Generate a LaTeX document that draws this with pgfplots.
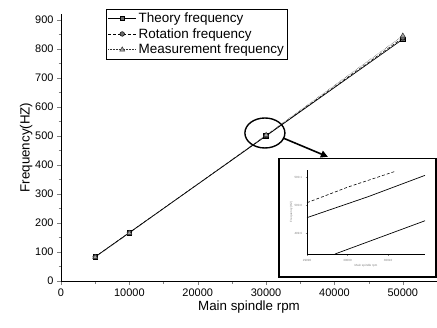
\documentclass[border=0pt]{standalone}
\usepackage{pgfplots}
\pgfplotsset{compat=1.18}
\usepackage{fontspec}
\setmainfont{Liberation Sans}
\usetikzlibrary{arrows.meta}
\begin{document}
\begin{tikzpicture}[x=1bp,y=1bp]
\path[use as bounding box] (0,0) rectangle (437,327);
\begin{axis}[
  at={(61bp,46bp)}, anchor=south west,
  scale only axis, width=376bp, height=267bp,
  axis lines*=left,
  xmin=0, xmax=55000, ymin=0, ymax=920,
  xtick={0,10000,...,50000}, ytick={0,100,...,900},
  minor x tick num=1, minor y tick num=1,
  tick align=outside, major tick length=4bp, minor tick length=2.5bp,
  scaled x ticks=false,
  /pgf/number format/assume math mode=true,
  xticklabel style={/pgf/number format/1000 sep={}},
  ticklabel style={font=\fontsize{11}{12}\selectfont},
  xlabel={Main spindle rpm}, ylabel={Frequency(HZ)},
  label style={font=\fontsize{13.4}{15}\selectfont},
  xlabel style={yshift=2bp},
  ylabel style={yshift=-4bp},
  clip=false,
  legend cell align=left,
  legend style={at={(rel axis cs:0.1197,1.019)}, anchor=north west,
    font=\fontsize{13.5}{15}\selectfont, draw=black, inner sep=1.5bp,
    row sep=0.5bp},
  legend image code/.code={\draw[mark repeat=2,mark phase=2,#1] plot coordinates {(0cm,0cm) (0.5cm,0cm) (1cm,0cm)};},
]
\addplot[black, line width=0.7pt, mark=square*, mark size=2.3bp, mark options={solid, fill=gray!85!black}] coordinates {(5000,83.3) (10000,166.7) (30000,500) (50000,833.3)};
\addlegendentry{Theory frequency}
\addplot[black, densely dashed, line width=0.5pt, mark=*, mark size=2.3bp, mark options={solid, fill=gray!85!black}] coordinates {(5000,83.5) (10000,167) (30000,501) (50000,838)};
\addlegendentry{Rotation frequency}
\addplot[black!80, densely dotted, line width=0.5pt, mark=triangle*, mark size=2.8bp, mark options={solid, fill=gray!70}] coordinates {(5000,82) (10000,165) (30000,503) (50000,845)};
\addlegendentry{Measurement frequency}
\draw[line width=1.4pt] (axis cs:29825,510) ellipse [x radius=20bp, y radius=15bp];
\draw[line width=1.6pt, -{Triangle[length=7bp,width=7bp]}] (axis cs:32456,493) -- (axis cs:39035,428);
\end{axis}
\draw[line width=2pt, fill=white] (279,50) rectangle (435.5,168.5);
\begin{axis}[
  at={(307bp,73bp)}, anchor=south west,
  scale only axis, width=118bp, height=84bp,
  axis lines*=left,
  xmin=29990, xmax=30019.1, ymin=499.827, ymax=500.125,
  xtick={29990,30000,30010}, ytick={499.9,500,500.1},
  xticklabels={29990,30000,30010}, yticklabels={499.9,500.0,500.1},
  scaled x ticks=false, scaled y ticks=false,
  tick align=outside, major tick length=1.5bp,
  /pgf/number format/assume math mode=true,
  ticklabel style={font=\fontsize{3}{3.5}\selectfont, gray},
  xlabel={Main spindle rpm}, ylabel={Frequency(HZ)},
  label style={font=\fontsize{3}{3.5}\selectfont, gray},
  xlabel style={yshift=4bp}, ylabel style={yshift=-5bp},
  axis line style={line width=0.8pt},
  clip=false,
]
\addplot[black, densely dashed, line width=0.6pt] coordinates {(29990,500.009) (30000,500.064) (30011.5,500.119)};
\addplot[black, line width=0.7pt] coordinates {(29990,499.956) (30005,500.03) (30019.1,500.106)};
\addplot[black, line width=0.7pt] coordinates {(29996.9,499.827) (30008,499.886) (30019.1,499.945)};
\end{axis}
\end{tikzpicture}
\end{document}
